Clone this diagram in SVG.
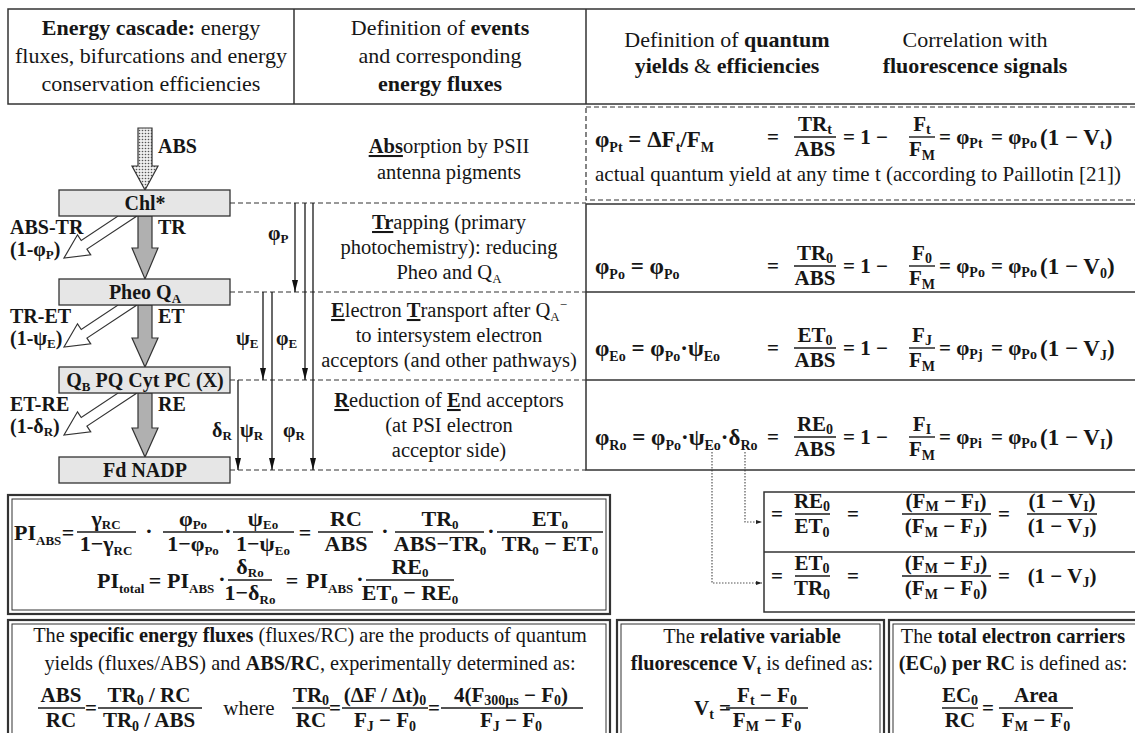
<svg xmlns="http://www.w3.org/2000/svg" width="1135" height="733" viewBox="0 0 1135 733">
<style>
text{font-family:"Liberation Serif","Times New Roman",serif;fill:#161616}
.h{font-size:22px}
.t{font-size:20.5px}
.bt{font-size:20.3px}
.b{font-weight:bold}
.u{text-decoration:underline}
.c{text-anchor:middle}
.f{font-size:21px;font-weight:bold}
.g{font-size:23px;font-weight:bold}
.p{font-size:22px;font-weight:bold}
.sb{font-size:14px}
.ss{font-size:13px}
.lab{font-size:20px;font-weight:bold}
.bx{fill:#e6e6e6;stroke:#333;stroke-width:1.3}
.dl{stroke:#333;stroke-width:1.2;stroke-dasharray:5 3;fill:none}
.ln{stroke:#1a1a1a;stroke-width:1.3;fill:none}
.fr{stroke:#1a1a1a;stroke-width:1.4}
.bd{fill:none;stroke:#333;stroke-width:1.5}
.bo{fill:none;stroke:#333;stroke-width:2.2}
.bi{fill:none;stroke:#333;stroke-width:1}
.dot{stroke:#555;stroke-width:1.2;stroke-dasharray:1.5 1.5;fill:none}
.wa{fill:#fff;stroke:#333;stroke-width:1.2}
.ga{fill:#b0b0b0;stroke:#333;stroke-width:1.2}
</style>
<defs>
<pattern id="dots" width="3" height="3" patternUnits="userSpaceOnUse"><rect width="3" height="3" fill="#eee"/><circle cx="1.5" cy="1.5" r="0.8" fill="#555"/></pattern>
<marker id="ah" viewBox="0 0 12 6" refX="12" refY="3" markerWidth="12" markerHeight="6" markerUnits="userSpaceOnUse" orient="auto"><path d="M0,0 L12,3 L0,6 z" fill="#111"/></marker>
<marker id="as" viewBox="0 0 6 4" refX="6" refY="2" markerWidth="6" markerHeight="4" markerUnits="userSpaceOnUse" orient="auto"><path d="M0,0 L6,2 L0,4 z" fill="#222"/></marker>
</defs>

<g id="header">
<rect class="bd" x="8" y="9" width="1132" height="95"/>
<line class="bd" x1="294" y1="9" x2="294" y2="104"/>
<line class="bd" x1="586" y1="9" x2="586" y2="104"/>
<text class="h c" x="151" y="35"><tspan class="b">Energy cascade:</tspan> energy</text>
<text class="h c" x="151" y="63">fluxes, bifurcations and energy</text>
<text class="h c" x="151" y="91">conservation efficiencies</text>
<text class="h c" x="440" y="35">Definition of <tspan class="b">events</tspan></text>
<text class="h c" x="440" y="63">and corresponding</text>
<text class="h c b" x="440" y="91">energy fluxes</text>
<text class="h c" x="727" y="47">Definition of <tspan class="b">quantum</tspan></text>
<text class="h c" x="727" y="73"><tspan class="b">yields</tspan> &amp; <tspan class="b">efficiencies</tspan></text>
<text class="h c" x="975" y="47">Correlation with</text>
<text class="h c b" x="975" y="73">fluorescence signals</text>
</g>

<g id="connectors">
<line class="dl" x1="230" y1="203" x2="586" y2="203"/>
<line class="dl" x1="230" y1="292" x2="586" y2="292"/>
<line class="dl" x1="230" y1="380" x2="586" y2="380"/>
<line class="dl" x1="230" y1="470" x2="586" y2="470"/>
<polygon points="138,128 152,128 152,166 158,166 145,190 132,166 138,166" fill="url(#dots)" stroke="#333" stroke-width="1.2"/>
<polygon class="ga" points="138,216 152,216 152,248 158,248 145,279 132,248 138,248"/>
<polygon class="ga" points="138,305 152,305 152,338 158,338 145,367 132,338 138,338"/>
<polygon class="ga" points="138,393 152,393 152,428 158,428 145,457 132,428 138,428"/>
<polygon class="wa" points="137,216 86.95,249.1 90.7,254.8 64,258 77.5,234.8 81.25,240.5 118,216"/>
<polygon class="wa" points="137,305 86.95,338.1 90.7,343.8 64,347 77.5,323.8 81.25,329.5 118,305"/>
<polygon class="wa" points="137,393 86.95,426.1 90.7,431.8 64,435 77.5,411.8 81.25,417.5 118,393"/>
<line class="ln" x1="295" y1="203" x2="295" y2="292" marker-end="url(#ah)"/>
<line class="ln" x1="305" y1="203" x2="305" y2="380" marker-end="url(#ah)"/>
<line class="ln" x1="313" y1="203" x2="313" y2="470" marker-end="url(#ah)"/>
<line class="ln" x1="263" y1="292" x2="263" y2="380" marker-end="url(#ah)"/>
<line class="ln" x1="272" y1="292" x2="272" y2="470" marker-end="url(#ah)"/>
<line class="ln" x1="238" y1="380" x2="238" y2="470" marker-end="url(#ah)"/>
<path class="dot" d="M745,452 V522 H762" marker-end="url(#as)"/>
<path class="dot" d="M712,452 V583 H762" marker-end="url(#as)"/>
</g>

<g id="cascade-labels">
<text class="lab" x="158" y="153">ABS</text>
<text class="lab" x="158" y="234">TR</text>
<text class="lab" x="158" y="323">ET</text>
<text class="lab" x="158" y="411">RE</text>
<text class="lab" x="10" y="234">ABS-TR</text>
<text class="lab" x="10" y="256">(1-φ<tspan class="ss" dy="3">P</tspan><tspan dy="-3">)</tspan></text>
<text class="lab" x="10" y="323">TR-ET</text>
<text class="lab" x="10" y="345">(1-ψ<tspan class="ss" dy="3">E</tspan><tspan dy="-3">)</tspan></text>
<text class="lab" x="10" y="411">ET-RE</text>
<text class="lab" x="10" y="433">(1-δ<tspan class="ss" dy="3">R</tspan><tspan dy="-3">)</tspan></text>
<text class="lab" x="268" y="240">φ<tspan class="ss" dy="3">P</tspan></text>
<text class="lab" x="236" y="345">ψ<tspan class="ss" dy="3">E</tspan></text>
<text class="lab" x="276" y="345">φ<tspan class="ss" dy="3">E</tspan></text>
<text class="lab" x="212" y="437">δ<tspan class="ss" dy="3">R</tspan></text>
<text class="lab" x="240" y="437">ψ<tspan class="ss" dy="3">R</tspan></text>
<text class="lab" x="283" y="437">φ<tspan class="ss" dy="3">R</tspan></text>
</g>

<g id="node-chl">
<rect class="bx" x="59" y="190" width="171" height="26"/>
<text class="lab c" x="145" y="210">Chl*</text>
</g>
<g id="node-pheo">
<rect class="bx" x="59" y="279" width="171" height="26"/>
<text class="lab c" x="145" y="299">Pheo Q<tspan class="ss" dy="4">A</tspan></text>
</g>
<g id="node-qb">
<rect class="bx" x="59" y="367" width="171" height="26"/>
<text class="lab c" x="145" y="387">Q<tspan class="ss" dy="4">B</tspan><tspan dy="-4"> PQ Cyt PC (X)</tspan></text>
</g>
<g id="node-fd">
<rect class="bx" x="59" y="457" width="171" height="26"/>
<text class="lab c" x="145" y="477">Fd  NADP</text>
</g>

<g id="events">
<text class="t c" x="449" y="153"><tspan class="b u">Abs</tspan>orption by PSII</text>
<text class="t c" x="449" y="179">antenna pigments</text>
<text class="t c" x="449" y="229"><tspan class="b u">Tr</tspan>apping (primary</text>
<text class="t c" x="449" y="254">photochemistry): reducing</text>
<text class="t c" x="449" y="279">Pheo and Q<tspan class="ss" dy="4">A</tspan></text>
<text class="t c" x="449" y="317"><tspan class="b u">E</tspan>lectron <tspan class="b u">T</tspan>ransport after Q<tspan class="ss" dy="4">A</tspan><tspan class="ss" dy="-12">−</tspan></text>
<text class="t c" x="449" y="342">to intersystem electron</text>
<text class="t c" x="449" y="367">acceptors (and other pathways)</text>
<text class="t c" x="449" y="407"><tspan class="b u">R</tspan>eduction of <tspan class="b u">E</tspan>nd acceptors</text>
<text class="t c" x="449" y="432">(at PSI electron</text>
<text class="t c" x="449" y="457">acceptor side)</text>
</g>

<g id="yields">
<rect class="dl" x="586" y="107" width="554" height="93"/>
<rect class="bd" x="586" y="204" width="554" height="266"/>
<line class="bd" x1="586" y1="292" x2="1140" y2="292"/>
<line class="bd" x1="586" y1="380" x2="1140" y2="380"/>

<text class="g" x="595" y="147">φ<tspan class="sb" dy="5">Pt</tspan><tspan dy="-5"> = ΔF</tspan><tspan class="sb" dy="5">t</tspan><tspan dy="-5">/F</tspan><tspan class="sb" dy="5">M</tspan></text>
<text class="f c" x="773" y="144">=</text>
<text class="f c" x="815" y="131">TR<tspan class="sb" dy="3">t</tspan></text>
<line class="fr" x1="794" y1="137" x2="836" y2="137"/>
<text class="f c" x="815" y="156">ABS</text>
<text class="f" x="843" y="144">= 1 −</text>
<text class="f c" x="922" y="131">F<tspan class="sb" dy="3">t</tspan></text>
<line class="fr" x1="909" y1="137" x2="935" y2="137"/>
<text class="f c" x="922" y="156">F<tspan class="sb" dy="4">M</tspan></text>
<text class="f" x="939" y="144">= φ<tspan class="sb" dy="4">Pt</tspan></text>
<text class="f" x="991" y="144">= φ<tspan class="sb" dy="4">Po</tspan></text>
<text class="g" x="1040" y="145" font-size="24">(1 − V<tspan class="sb" dy="4">t</tspan><tspan dy="-4">)</tspan></text>
<text class="c" x="858" y="181" font-size="21">actual quantum yield at any time t (according to Paillotin [21])</text>

<text class="g" x="595" y="274">φ<tspan class="sb" dy="5">Po</tspan><tspan dy="-5"> = φ</tspan><tspan class="sb" dy="5">Po</tspan></text>
<text class="f c" x="773" y="273">=</text>
<text class="f c" x="815" y="260">TR<tspan class="sb" dy="3">0</tspan></text>
<line class="fr" x1="794" y1="266" x2="836" y2="266"/>
<text class="f c" x="815" y="285">ABS</text>
<text class="f" x="843" y="273">= 1 −</text>
<text class="f c" x="922" y="260">F<tspan class="sb" dy="3">0</tspan></text>
<line class="fr" x1="909" y1="266" x2="935" y2="266"/>
<text class="f c" x="922" y="285">F<tspan class="sb" dy="4">M</tspan></text>
<text class="f" x="939" y="273">= φ<tspan class="sb" dy="4">Po</tspan></text>
<text class="f" x="991" y="273">= φ<tspan class="sb" dy="4">Po</tspan></text>
<text class="g" x="1040" y="274" font-size="24">(1 − V<tspan class="sb" dy="4">0</tspan><tspan dy="-4">)</tspan></text>

<text class="g" x="595" y="356">φ<tspan class="sb" dy="5">Eo</tspan><tspan dy="-5"> = φ</tspan><tspan class="sb" dy="5">Po</tspan><tspan dy="-5">·ψ</tspan><tspan class="sb" dy="5">Eo</tspan></text>
<text class="f c" x="773" y="355">=</text>
<text class="f c" x="815" y="342">ET<tspan class="sb" dy="3">0</tspan></text>
<line class="fr" x1="794" y1="348" x2="836" y2="348"/>
<text class="f c" x="815" y="367">ABS</text>
<text class="f" x="843" y="355">= 1 −</text>
<text class="f c" x="922" y="342">F<tspan class="sb" dy="3">J</tspan></text>
<line class="fr" x1="909" y1="348" x2="935" y2="348"/>
<text class="f c" x="922" y="367">F<tspan class="sb" dy="4">M</tspan></text>
<text class="f" x="939" y="355">= φ<tspan class="sb" dy="4">Pj</tspan></text>
<text class="f" x="991" y="355">= φ<tspan class="sb" dy="4">Po</tspan></text>
<text class="g" x="1040" y="356" font-size="24">(1 − V<tspan class="sb" dy="4">J</tspan><tspan dy="-4">)</tspan></text>

<text class="g" x="595" y="445">φ<tspan class="sb" dy="5">Ro</tspan><tspan dy="-5"> = φ</tspan><tspan class="sb" dy="5">Po</tspan><tspan dy="-5">·ψ</tspan><tspan class="sb" dy="5">Eo</tspan><tspan dy="-5">·δ</tspan><tspan class="sb" dy="5">Ro</tspan></text>
<text class="f c" x="773" y="444">=</text>
<text class="f c" x="815" y="431">RE<tspan class="sb" dy="3">0</tspan></text>
<line class="fr" x1="794" y1="437" x2="836" y2="437"/>
<text class="f c" x="815" y="456">ABS</text>
<text class="f" x="843" y="444">= 1 −</text>
<text class="f c" x="922" y="431">F<tspan class="sb" dy="3">I</tspan></text>
<line class="fr" x1="909" y1="437" x2="935" y2="437"/>
<text class="f c" x="922" y="456">F<tspan class="sb" dy="4">M</tspan></text>
<text class="f" x="939" y="444">= φ<tspan class="sb" dy="4">Pi</tspan></text>
<text class="f" x="991" y="444">= φ<tspan class="sb" dy="4">Po</tspan></text>
<text class="g" x="1040" y="445" font-size="24">(1 − V<tspan class="sb" dy="4">I</tspan><tspan dy="-4">)</tspan></text>
</g>

<g id="pi-box">
<rect class="bo" x="8" y="495" width="602" height="119"/>
<rect class="bi" x="12" y="499" width="594" height="111"/>
<text class="p" x="14" y="540">PI<tspan class="ss" dy="5">ABS</tspan></text>
<text class="p c" x="68" y="540">=</text>
<text class="p c" x="106" y="526">γ<tspan class="ss" dy="3">RC</tspan></text>
<line class="fr" x1="77" y1="532" x2="136" y2="532"/>
<text class="p c" x="106" y="551">1−γ<tspan class="ss" dy="4">RC</tspan></text>
<text class="p c" x="149" y="538">·</text>
<text class="p c" x="193" y="526">φ<tspan class="ss" dy="3">Po</tspan></text>
<line class="fr" x1="163" y1="532" x2="223" y2="532"/>
<text class="p c" x="193" y="551">1−φ<tspan class="ss" dy="4">Po</tspan></text>
<text class="p c" x="228" y="538">·</text>
<text class="p c" x="263" y="526">ψ<tspan class="ss" dy="3">Eo</tspan></text>
<line class="fr" x1="233" y1="532" x2="294" y2="532"/>
<text class="p c" x="263" y="551">1−ψ<tspan class="ss" dy="4">Eo</tspan></text>
<text class="p c" x="305" y="540">=</text>
<text class="p c" x="346" y="526">RC</text>
<line class="fr" x1="318" y1="532" x2="373" y2="532"/>
<text class="p c" x="346" y="551">ABS</text>
<text class="p c" x="385" y="538">·</text>
<text class="p c" x="440" y="526">TR<tspan class="ss" dy="3">0</tspan></text>
<line class="fr" x1="395" y1="532" x2="484" y2="532"/>
<text class="p c" x="440" y="551">ABS−TR<tspan class="ss" dy="4">0</tspan></text>
<text class="p c" x="491" y="538">·</text>
<text class="p c" x="550" y="526">ET<tspan class="ss" dy="3">0</tspan></text>
<line class="fr" x1="497" y1="532" x2="603" y2="532"/>
<text class="p c" x="550" y="551">TR<tspan class="ss" dy="4">0</tspan><tspan dy="-4"> − ET</tspan><tspan class="ss" dy="4">0</tspan></text>

<text class="p" x="97" y="588">PI<tspan class="ss" dy="5">total</tspan></text>
<text class="p c" x="155" y="588">=</text>
<text class="p" x="167" y="588">PI<tspan class="ss" dy="5">ABS</tspan></text>
<text class="p c" x="222" y="586">·</text>
<text class="p c" x="250" y="574">δ<tspan class="ss" dy="3">Ro</tspan></text>
<line class="fr" x1="228" y1="580" x2="272" y2="580"/>
<text class="p c" x="250" y="600">1−δ<tspan class="ss" dy="4">Ro</tspan></text>
<text class="p c" x="292" y="588">=</text>
<text class="p" x="306" y="588">PI<tspan class="ss" dy="5">ABS</tspan></text>
<text class="p c" x="360" y="586">·</text>
<text class="p c" x="410" y="574">RE<tspan class="ss" dy="3">0</tspan></text>
<line class="fr" x1="366" y1="580" x2="454" y2="580"/>
<text class="p c" x="410" y="600">ET<tspan class="ss" dy="4">0</tspan><tspan dy="-4"> − RE</tspan><tspan class="ss" dy="4">0</tspan></text>
</g>

<g id="ratio-box">
<rect class="bd" x="764" y="492" width="376" height="120"/>
<line class="bd" x1="764" y1="552" x2="1140" y2="552"/>
<text class="f c" x="777" y="521">=</text>
<text class="f c" x="812" y="508">RE<tspan class="sb" dy="3">0</tspan></text>
<line class="fr" x1="795" y1="514" x2="830" y2="514"/>
<text class="f c" x="812" y="533">ET<tspan class="sb" dy="4">0</tspan></text>
<text class="f c" x="853" y="521">=</text>
<text class="f c" x="946" y="508">(F<tspan class="sb" dy="3">M</tspan><tspan dy="-3"> − F</tspan><tspan class="sb" dy="3">I</tspan><tspan dy="-3">)</tspan></text>
<line class="fr" x1="902" y1="514" x2="991" y2="514"/>
<text class="f c" x="946" y="533">(F<tspan class="sb" dy="4">M</tspan><tspan dy="-4"> − F</tspan><tspan class="sb" dy="4">J</tspan><tspan dy="-4">)</tspan></text>
<text class="f c" x="1004" y="521">=</text>
<text class="f c" x="1062" y="508">(1 − V<tspan class="sb" dy="3">I</tspan><tspan dy="-3">)</tspan></text>
<line class="fr" x1="1027" y1="514" x2="1097" y2="514"/>
<text class="f c" x="1062" y="533">(1 − V<tspan class="sb" dy="4">J</tspan><tspan dy="-4">)</tspan></text>

<text class="f c" x="777" y="583">=</text>
<text class="f c" x="812" y="570">ET<tspan class="sb" dy="3">0</tspan></text>
<line class="fr" x1="795" y1="576" x2="830" y2="576"/>
<text class="f c" x="812" y="595">TR<tspan class="sb" dy="4">0</tspan></text>
<text class="f c" x="853" y="583">=</text>
<text class="f c" x="946" y="570">(F<tspan class="sb" dy="3">M</tspan><tspan dy="-3"> − F</tspan><tspan class="sb" dy="3">J</tspan><tspan dy="-3">)</tspan></text>
<line class="fr" x1="902" y1="576" x2="991" y2="576"/>
<text class="f c" x="946" y="595">(F<tspan class="sb" dy="4">M</tspan><tspan dy="-4"> − F</tspan><tspan class="sb" dy="4">0</tspan><tspan dy="-4">)</tspan></text>
<text class="f c" x="1004" y="583">=</text>
<text class="f c" x="1062" y="583">(1 − V<tspan class="sb" dy="4">J</tspan><tspan dy="-4">)</tspan></text>
</g>

<g id="specific-fluxes">
<rect class="bo" x="8" y="620" width="602" height="125"/>
<rect class="bi" x="12" y="624" width="594" height="125"/>
<text class="bt c" x="310" y="642">The <tspan class="b">specific energy fluxes</tspan> (fluxes/RC) are the products of quantum</text>
<text class="bt c" x="310" y="670">yields (fluxes/ABS) and <tspan class="b">ABS/RC</tspan>, experimentally determined as:</text>
<text class="f c" x="61" y="702">ABS</text>
<line class="fr" x1="38" y1="708" x2="85" y2="708"/>
<text class="f c" x="61" y="727">RC</text>
<text class="f c" x="91" y="715">=</text>
<text class="f c" x="149" y="702">TR<tspan class="sb" dy="3">0</tspan><tspan dy="-3"> / RC</tspan></text>
<line class="fr" x1="98" y1="708" x2="202" y2="708"/>
<text class="f c" x="149" y="727">TR<tspan class="sb" dy="4">0</tspan><tspan dy="-4"> / ABS</tspan></text>
<text class="c" x="249" y="715" font-size="21">where</text>
<text class="f c" x="311" y="702">TR<tspan class="sb" dy="3">0</tspan></text>
<line class="fr" x1="292" y1="708" x2="330" y2="708"/>
<text class="f c" x="311" y="727">RC</text>
<text class="f c" x="335" y="715">=</text>
<text class="f c" x="385" y="702">(ΔF / Δt)<tspan class="sb" dy="3">0</tspan></text>
<line class="fr" x1="342" y1="708" x2="428" y2="708"/>
<text class="f c" x="385" y="727">F<tspan class="sb" dy="4">J</tspan><tspan dy="-4"> − F</tspan><tspan class="sb" dy="4">0</tspan></text>
<text class="f c" x="434" y="715">=</text>
<text class="f c" x="511" y="702">4(F<tspan class="sb" dy="3">300μs</tspan><tspan dy="-3"> − F</tspan><tspan class="sb" dy="3">0</tspan><tspan dy="-3">)</tspan></text>
<line class="fr" x1="441" y1="708" x2="583" y2="708"/>
<text class="f c" x="511" y="727">F<tspan class="sb" dy="4">J</tspan><tspan dy="-4"> − F</tspan><tspan class="sb" dy="4">0</tspan></text>
</g>

<g id="relative-variable">
<rect class="bo" x="617" y="620" width="267" height="125"/>
<rect class="bi" x="621" y="624" width="259" height="125"/>
<text class="bt c" x="752" y="643">The <tspan class="b">relative variable</tspan></text>
<text class="bt c" x="752" y="670"><tspan class="b">fluorescence V<tspan class="ss" dy="4">t</tspan></tspan><tspan dy="-4"> is defined as:</tspan></text>
<text class="f" x="694" y="715">V<tspan class="sb" dy="4">t</tspan><tspan dy="-4"> =</tspan></text>
<text class="f c" x="767" y="702">F<tspan class="sb" dy="3">t</tspan><tspan dy="-3"> − F</tspan><tspan class="sb" dy="3">0</tspan></text>
<line class="fr" x1="726" y1="708" x2="808" y2="708"/>
<text class="f c" x="767" y="727">F<tspan class="sb" dy="4">M</tspan><tspan dy="-4"> − F</tspan><tspan class="sb" dy="4">0</tspan></text>
</g>

<g id="electron-carriers">
<rect class="bo" x="889" y="620" width="260" height="125"/>
<rect class="bi" x="893" y="624" width="252" height="125"/>
<text class="bt c" x="1013" y="643">The <tspan class="b">total electron carriers</tspan></text>
<text class="bt c" x="1013" y="670"><tspan class="b">(EC<tspan class="ss" dy="4">0</tspan><tspan dy="-4">) per RC</tspan></tspan> is defined as:</text>
<text class="f c" x="960" y="702">EC<tspan class="sb" dy="3">0</tspan></text>
<line class="fr" x1="942" y1="708" x2="978" y2="708"/>
<text class="f c" x="960" y="727">RC</text>
<text class="f c" x="988" y="715">=</text>
<text class="f c" x="1036" y="702">Area</text>
<line class="fr" x1="999" y1="708" x2="1073" y2="708"/>
<text class="f c" x="1036" y="727">F<tspan class="sb" dy="4">M</tspan><tspan dy="-4"> − F</tspan><tspan class="sb" dy="4">0</tspan></text>
</g>
</svg>
